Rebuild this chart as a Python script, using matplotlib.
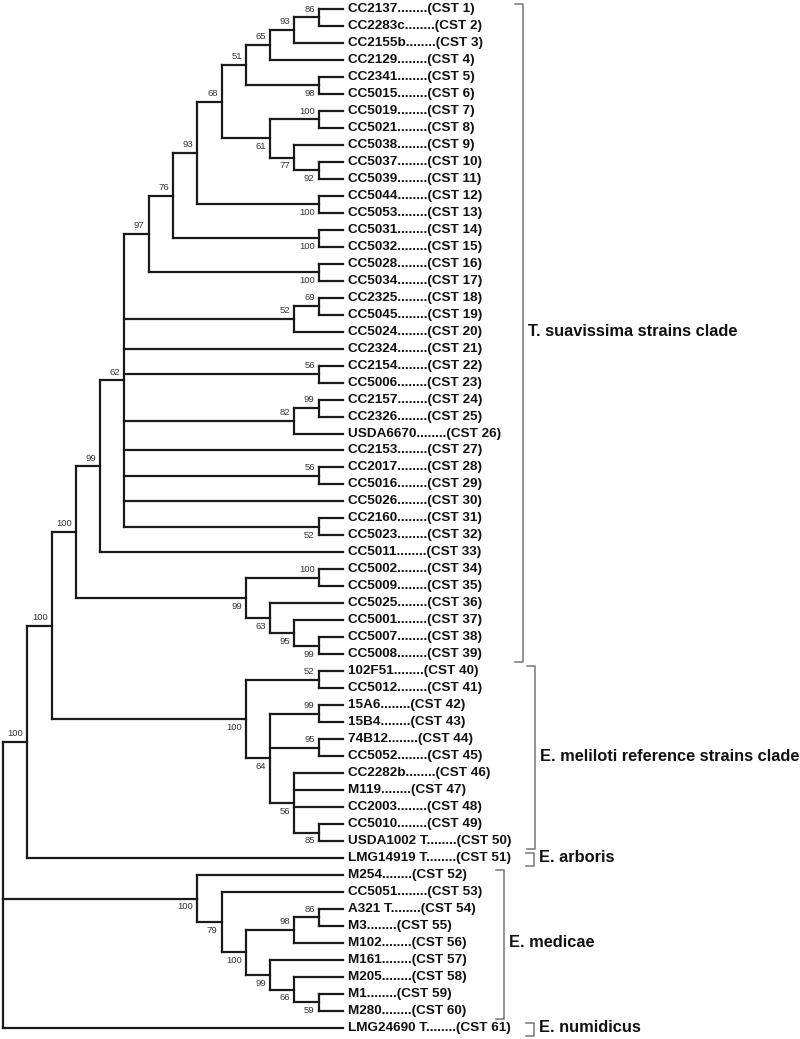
import matplotlib
matplotlib.use("Agg")
import matplotlib.pyplot as plt

plt.rcParams['font.family'] = ['Liberation Sans', 'DejaVu Sans']

# topology (leaf numbers = CST numbers), internal labels = bootstrap values
newick = ("((((((((((((((1,2)86,3)93,4)65,(5,6)98)51,((7,8)100,(9,(10,11)92)77)61)68,"
          "(12,13)100)93,(14,15)100)76,(16,17)100)97,((18,19)69,20)52,21,(22,23)56,"
          "((24,25)99,26)82,27,(28,29)56,30,(31,32)52)62,33)99,"
          "((34,35)100,(36,(37,(38,39)99)95)63)99)100,"
          "((40,41)52,((42,43)99,(44,45)95,(46,47,48,(49,50)85)56)64)100)100,51)100,"
          "(52,(53,(((54,55)86,56)98,(57,(58,(59,60)59)66)99)100)79)100,61);")

strains = ["CC2137", "CC2283c", "CC2155b", "CC2129", "CC2341", "CC5015", "CC5019",
           "CC5021", "CC5038", "CC5037", "CC5039", "CC5044", "CC5053", "CC5031",
           "CC5032", "CC5028", "CC5034", "CC2325", "CC5045", "CC5024", "CC2324",
           "CC2154", "CC5006", "CC2157", "CC2326", "USDA6670", "CC2153", "CC2017",
           "CC5016", "CC5026", "CC2160", "CC5023", "CC5011", "CC5002", "CC5009",
           "CC5025", "CC5001", "CC5007", "CC5008", "102F51", "CC5012", "15A6", "15B4",
           "74B12", "CC5052", "CC2282b", "M119", "CC2003", "CC5010", "USDA1002 T",
           "LMG14919 T", "M254", "CC5051", "A321 T", "M3", "M102", "M161", "M205",
           "M1", "M280", "LMG24690 T"]

# clade name, first CST, last CST
clades = [("T. suavissima strains clade", 1, 39),
          ("E. meliloti reference strains clade", 40, 50),
          ("E. arboris", 51, 51),
          ("E. medicae", 52, 60),
          ("E. numidicus", 61, 61)]
bracket_px = [523, 535, 534, 504, 534]


def parse(s):
    pos = 0

    def read_label():
        nonlocal pos
        start = pos
        while s[pos] not in ',();':
            pos += 1
        return s[start:pos]

    def node():
        nonlocal pos
        if s[pos] == '(':
            pos += 1
            kids = [node()]
            while s[pos] == ',':
                pos += 1
                kids.append(node())
            assert s[pos] == ')'
            pos += 1
            return {'kids': kids, 'boot': read_label()}
        return {'kids': [], 'leaf': int(read_label())}

    return node()


tree = parse(newick)
leaves = []


def layout(n):
    if not n['kids']:
        n['y'] = len(leaves)
        n['h'] = 0
        leaves.append(n['leaf'])
        return
    for k in n['kids']:
        layout(k)
    n['y'] = (n['kids'][0]['y'] + n['kids'][-1]['y']) / 2
    n['h'] = 1 + max(k['h'] for k in n['kids'])


layout(tree)
assert leaves == list(range(1, 62))
H = tree['h']

fig = plt.figure(figsize=(8, 10.39), dpi=100)
ax = fig.add_axes([0, 0, 1, 1])
# 1 unit in x = one tree level (~24.3 px), 1 unit in y = one leaf row (~17 px)
xstep, ystep = 24.29, 16.98
ax.set_xlim(-3 / xstep, (800 - 3) / xstep)
ax.set_ylim((1039 - 9) / ystep, -9 / ystep)
ax.axis('off')

lc = '#1a1a1a'
lw = 1.6


def draw(n, parent=None, idx=0):
    x = H - n['h']
    if parent is not None:
        px = H - parent['h']
        ax.plot([px, x], [n['y'], n['y']], color=lc, lw=lw, solid_capstyle='projecting')
    if not n['kids']:
        i = n['leaf']
        ax.annotate(f"{strains[i - 1]}........(CST {i})", (x, n['y']),
                    xytext=(3.8, 0), textcoords='offset points', ha='left',
                    va='center', fontsize=9.7, fontweight='bold', color='#111')
        return
    ax.plot([x, x], [n['kids'][0]['y'], n['kids'][-1]['y']], color=lc, lw=lw,
            solid_capstyle='projecting')
    if parent is not None and n['boot']:
        last = idx == len(parent['kids']) - 1
        if parent is tree:
            last = n['y'] > parent['y']
        dy = -6.0 if last else 6.0
        ax.annotate(n['boot'], (x, n['y']), xytext=(-2.9, dy), textcoords='offset points',
                    ha='right', va='center', fontsize=6.8, color='#333')
    for k, c in enumerate(n['kids']):
        draw(c, n, k)


draw(tree)

# clade brackets on the right
for (name, a, b), bx in zip(clades, bracket_px):
    x = (bx - 3) / xstep
    tick = 8 / xstep
    y0 = (a - 1) - 5 / ystep
    y1 = (b - 1) + 8 / ystep
    ax.plot([x - tick, x, x, x - tick], [y0, y0, y1, y1], color='#777', lw=1.1)
    ax.text(x + 5 / xstep, (a + b) / 2 - 1, name, ha='left', va='center',
            fontsize=11.8, fontweight='bold', color='#111')

fig.savefig("out.png", dpi=100)
